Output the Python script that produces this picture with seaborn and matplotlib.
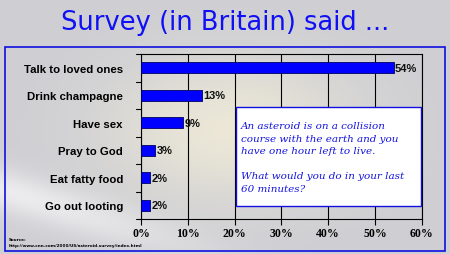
import numpy as np
import pandas as pd
import matplotlib
matplotlib.use("Agg")
import matplotlib.pyplot as plt
import seaborn as sns
from matplotlib.patches import Rectangle

categories = ["Talk to loved ones", "Drink champagne", "Have sex",
              "Pray to God", "Eat fatty food", "Go out looting"]
values = [54, 13, 9, 3, 2, 2]
xticks = [0, 10, 20, 30, 40, 50, 60]
xtick_labels = ["0%", "10%", "20%", "30%", "40%", "50%", "60%"]
title = "Survey (in Britain) said ..."
note = ("An asteroid is on a collision\n"
        "course with the earth and you\n"
        "have one hour left to live.\n"
        "\n"
        "What would you do in your last\n"
        "60 minutes?")

sns.set_theme(style="white")
plt.rcParams['font.family'] = ['DejaVu Sans']

W, H = 450, 255
fig = plt.figure(figsize=(4.5, 2.55), dpi=100, facecolor="#cfcfd3")

# soft background glow (decorative)
bg = fig.add_axes([0, 0, 1, 1], zorder=-10)
yy, xx = np.mgrid[0:H, 0:W]
base = np.ones((H, W, 3)) * np.array([0.81, 0.81, 0.83])
glow = np.exp(-(((xx - 230) / 120.0) ** 2 + ((yy - 130) / 70.0) ** 2))
base = base * (1 - 0.6 * glow[..., None]) + np.array([1.0, 0.97, 0.85]) * 0.6 * glow[..., None]
band = np.exp(-(((yy - 0.3 * xx - 190) / 22.0) ** 2)) * np.exp(-((xx / 180.0) ** 2))
base = base * (1 - 0.6 * band[..., None]) + 0.6 * band[..., None]
bg.imshow(np.clip(base, 0, 1), extent=[0, W, H, 0], aspect="auto")
bg.set_xlim(0, W); bg.set_ylim(H, 0); bg.axis("off")

# outer blue frame
fig.patches.append(Rectangle((5 / W, 3 / H), 440 / W, 204 / H, transform=fig.transFigure,
                             fill=False, edgecolor="#1010e0", linewidth=1.2, zorder=5))

fig.text(225 / W, 1 - 23 / H, title, ha="center", va="center", color="#1010f5",
         fontsize=18.5, family="DejaVu Sans")

ax = fig.add_axes([141 / W, 1 - 220 / H, 280.7 / W, 165 / H])
ax.set_facecolor((1, 1, 1, 0))
df = pd.DataFrame({"cat": categories, "val": values})
sns.barplot(data=df, y="cat", x="val", orient="h", color="#0000ff", saturation=1,
            width=0.4, edgecolor="#000060", linewidth=0.6, ax=ax, zorder=3)
ax.set_xlim(0, 60)
ax.set_ylim(len(categories) - 0.5, -0.5)
ax.set_xticks(xticks)
ax.set_xticklabels(xtick_labels, family="Liberation Serif", fontweight="bold", fontsize=8.5)
ax.set_yticks(range(len(categories)))
ax.set_yticklabels(categories, family="Liberation Sans", fontweight="bold", fontsize=8.2,
                   color="black")
ax.tick_params(axis="y", length=0, pad=13)
ax.tick_params(axis="x", length=4, width=0.8, color="black", pad=2, direction="out",
               bottom=True, labelcolor="black")
for yb in np.arange(-0.5, len(categories), 1.0):
    ax.plot([-1.1, 0], [yb, yb], color="black", lw=0.8, clip_on=False)
ax.set_xlabel(""); ax.set_ylabel("")
ax.grid(axis="x", color="black", linewidth=0.8, zorder=0)
ax.set_axisbelow(True)
for s in ax.spines.values():
    s.set_visible(True); s.set_color("black"); s.set_linewidth(0.8)

for i, v in enumerate(values):
    ax.text(v + 0.3, i, f"{v}%", va="center", ha="left", fontsize=8,
            fontweight="bold", family="Liberation Sans", color="#111111", zorder=4)

fig.text(241 / W, 1 - 158 / H, note, ha="left", va="center", color="#1414e0",
         fontsize=7.5, style="italic", family="DejaVu Serif", linespacing=1.5,
         zorder=6)
fig.patches.append(Rectangle((236 / W, 1 - 207 / H), 185 / W, 99 / H, transform=fig.transFigure,
                             facecolor="white", edgecolor="#1010e0", linewidth=1.0, zorder=5))

fig.text(9 / W, 1 - 241 / H, "Source:", fontsize=3, color="black", fontweight="bold")
fig.text(9 / W, 1 - 247 / H, "http://www.cnn.com/2000/US/asteroid.survey/index.html",
         fontsize=3, color="black", fontweight="bold")

fig.savefig("out.png", dpi=100, facecolor=fig.get_facecolor())
